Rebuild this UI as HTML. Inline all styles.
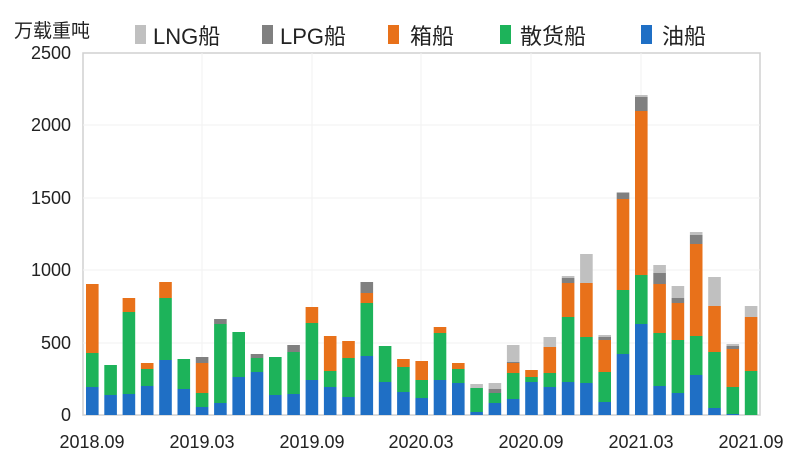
<!DOCTYPE html>
<html><head><meta charset="utf-8"><style>
html,body{margin:0;padding:0;background:#fff;width:804px;height:468px;overflow:hidden}
svg{display:block}
text{font-family:"Liberation Sans","Noto Sans CJK SC",sans-serif;fill:#222}
</style></head><body>
<svg id="s" width="804" height="468" viewBox="0 0 804 468">
<rect x="83" y="53" width="677" height="362" fill="none" stroke="#d0d0d0" stroke-width="1.5"/>
<g stroke="#f2f2f2" stroke-width="1">
<line x1="83" x2="760" y1="125" y2="125"/><line x1="83" x2="760" y1="198" y2="198"/>
<line x1="83" x2="760" y1="270" y2="270"/><line x1="83" x2="760" y1="343" y2="343"/>
<line x1="202" x2="202" y1="53" y2="415"/><line x1="312" x2="312" y1="53" y2="415"/>
<line x1="421" x2="421" y1="53" y2="415"/><line x1="531" x2="531" y1="53" y2="415"/>
<line x1="641" x2="641" y1="53" y2="415"/>
</g>
<g font-size="18" text-anchor="end">
<text x="71" y="59">2500</text><text x="71" y="131">2000</text><text x="71" y="204">1500</text>
<text x="71" y="276">1000</text><text x="71" y="349">500</text><text x="71" y="421">0</text>
</g>
<g font-size="18" text-anchor="middle">
<text x="92" y="448">2018.09</text><text x="202" y="448">2019.03</text><text x="312" y="448">2019.09</text>
<text x="421" y="448">2020.03</text><text x="531" y="448">2020.09</text><text x="641" y="448">2021.03</text>
<text x="751" y="448">2021.09</text>
</g>
<text x="14" y="37" font-size="19">万载重吨</text>
<g font-size="22" style="font-weight:bold">
<rect x="135" y="25" width="11" height="19" fill="#c0c0c0"/><text x="153" y="44" font-weight="normal">LNG船</text>
<rect x="262" y="25" width="11" height="19" fill="#808080"/><text x="280" y="44" font-weight="normal">LPG船</text>
<rect x="388" y="25" width="11" height="19" fill="#e8711a"/><text x="410" y="44" font-weight="normal">箱船</text>
<rect x="500" y="25" width="11" height="19" fill="#1db35a"/><text x="520" y="44" font-weight="normal">散货船</text>
<rect x="641" y="25" width="11" height="19" fill="#1f6fc5"/><text x="662" y="44" font-weight="normal">油船</text>
</g>
<g id="bars"></g>
</svg>
<script>
var d=[[387,353,284],[395,365],[394,312,298],[386,369,363],[360,298,282],[389,359],[407,393,363,357],[403,324,324,319],[377,332],[372,358,358,354],[395,357],[394,352,352,345],[380,323,307],[387,371,336],[397,358,341],[356,303,293,282],[382,346],[392,367,359],[398,380,361],[380,333,327],[383,369,363],[412,388,388,388,384],[403,393,393,389,383],[399,373,363,362,345],[382,377,370],[387,373,347,347,337],[382,317,283,278,276],[383,337,283,283,254],[402,372,340,337,335],[354,290,199,193,192],[324,275,111,97,95],[386,333,284,273,265],[393,340,303,298,286],[375,336,244,235,232],[408,352,306,306,277],[414,387,349,346,344],[415,371,317,317,306]];
var c=["#1f6fc5","#1db35a","#e8711a","#808080","#c0c0c0"],h="";
d.forEach(function(b,i){var x=92.3+i*18.3-6.3,prev=415;b.forEach(function(t,k){if(prev-t>0)h+='<rect x="'+x.toFixed(1)+'" y="'+t+'" width="12.6" height="'+(prev-t)+'" fill="'+c[k]+'"/>';prev=t;});});
document.getElementById("bars").innerHTML=h;
</script>
</body></html>
